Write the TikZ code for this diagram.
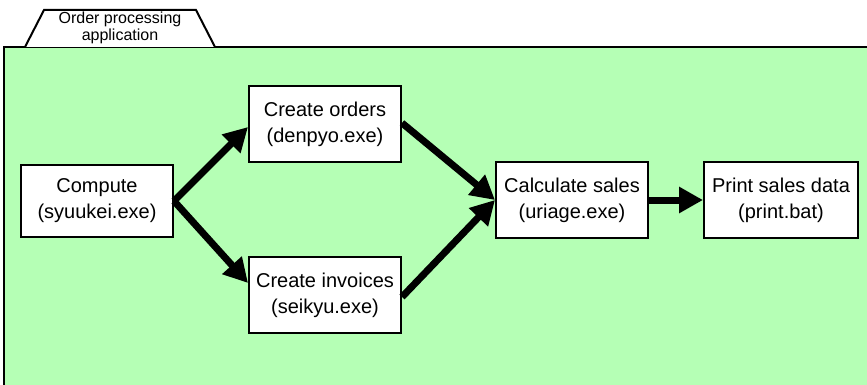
\documentclass[tikz,border=0pt]{standalone}
\usepackage{fontspec}
\setmainfont{Liberation Sans}
\usetikzlibrary{arrows.meta}
\definecolor{appgreen}{RGB}{181,255,181}
\begin{document}
\begin{tikzpicture}[x=0.5pt,y=-0.5pt,
	box/.style={draw,line width=1pt,fill=white,minimum width=76pt,minimum height=38pt,inner sep=0pt,align=center,font=\fontsize{10}{13}\selectfont},
	flow/.style={line width=3.5pt,-{Triangle[length=12pt,width=12.5pt]}}]
			\useasboundingbox (0,0) rectangle (867,385);
			% Application area
			\fill[appgreen] (4,47) rectangle (867,385);
			\draw[line width=1pt] (4,385) -- (4,47) -- (867,47);
			\draw[line width=1pt,fill=white] (25,47) -- (44,10) -- (196,10) -- (215,47);
			\node[align=center,inner sep=0pt,font=\fontsize{8}{7}\selectfont] (tab) at (120,28) {Order processing\\application};
			% Programs
			\node[box,minimum height=36pt] (compute) at (97,201) {Compute\\(syuukei.exe)};
			\node[box] (orders) at (325,124) {Create orders\\(denpyo.exe)};
			\node[box] (invoices) at (325,295) {Create invoices\\(seikyu.exe)};
			\node[box] (sales) at (572,200) {Calculate sales\\(uriage.exe)};
			\node[box,minimum width=77pt] (print) at (781,200) {Print sales data\\(print.bat)};
			% Flow
			\draw[flow] (compute.east) -- ([yshift=-1.5pt]orders.west);
			\draw[flow] (compute.east) -- ([yshift=6pt]invoices.west);
			\draw[flow] ([yshift=0.5pt]orders.east) -- (sales.west);
			\draw[flow] ([yshift=-1pt]invoices.east) -- (sales.west);
			\draw[flow] (sales) -- (print);
\end{tikzpicture}
\end{document}
